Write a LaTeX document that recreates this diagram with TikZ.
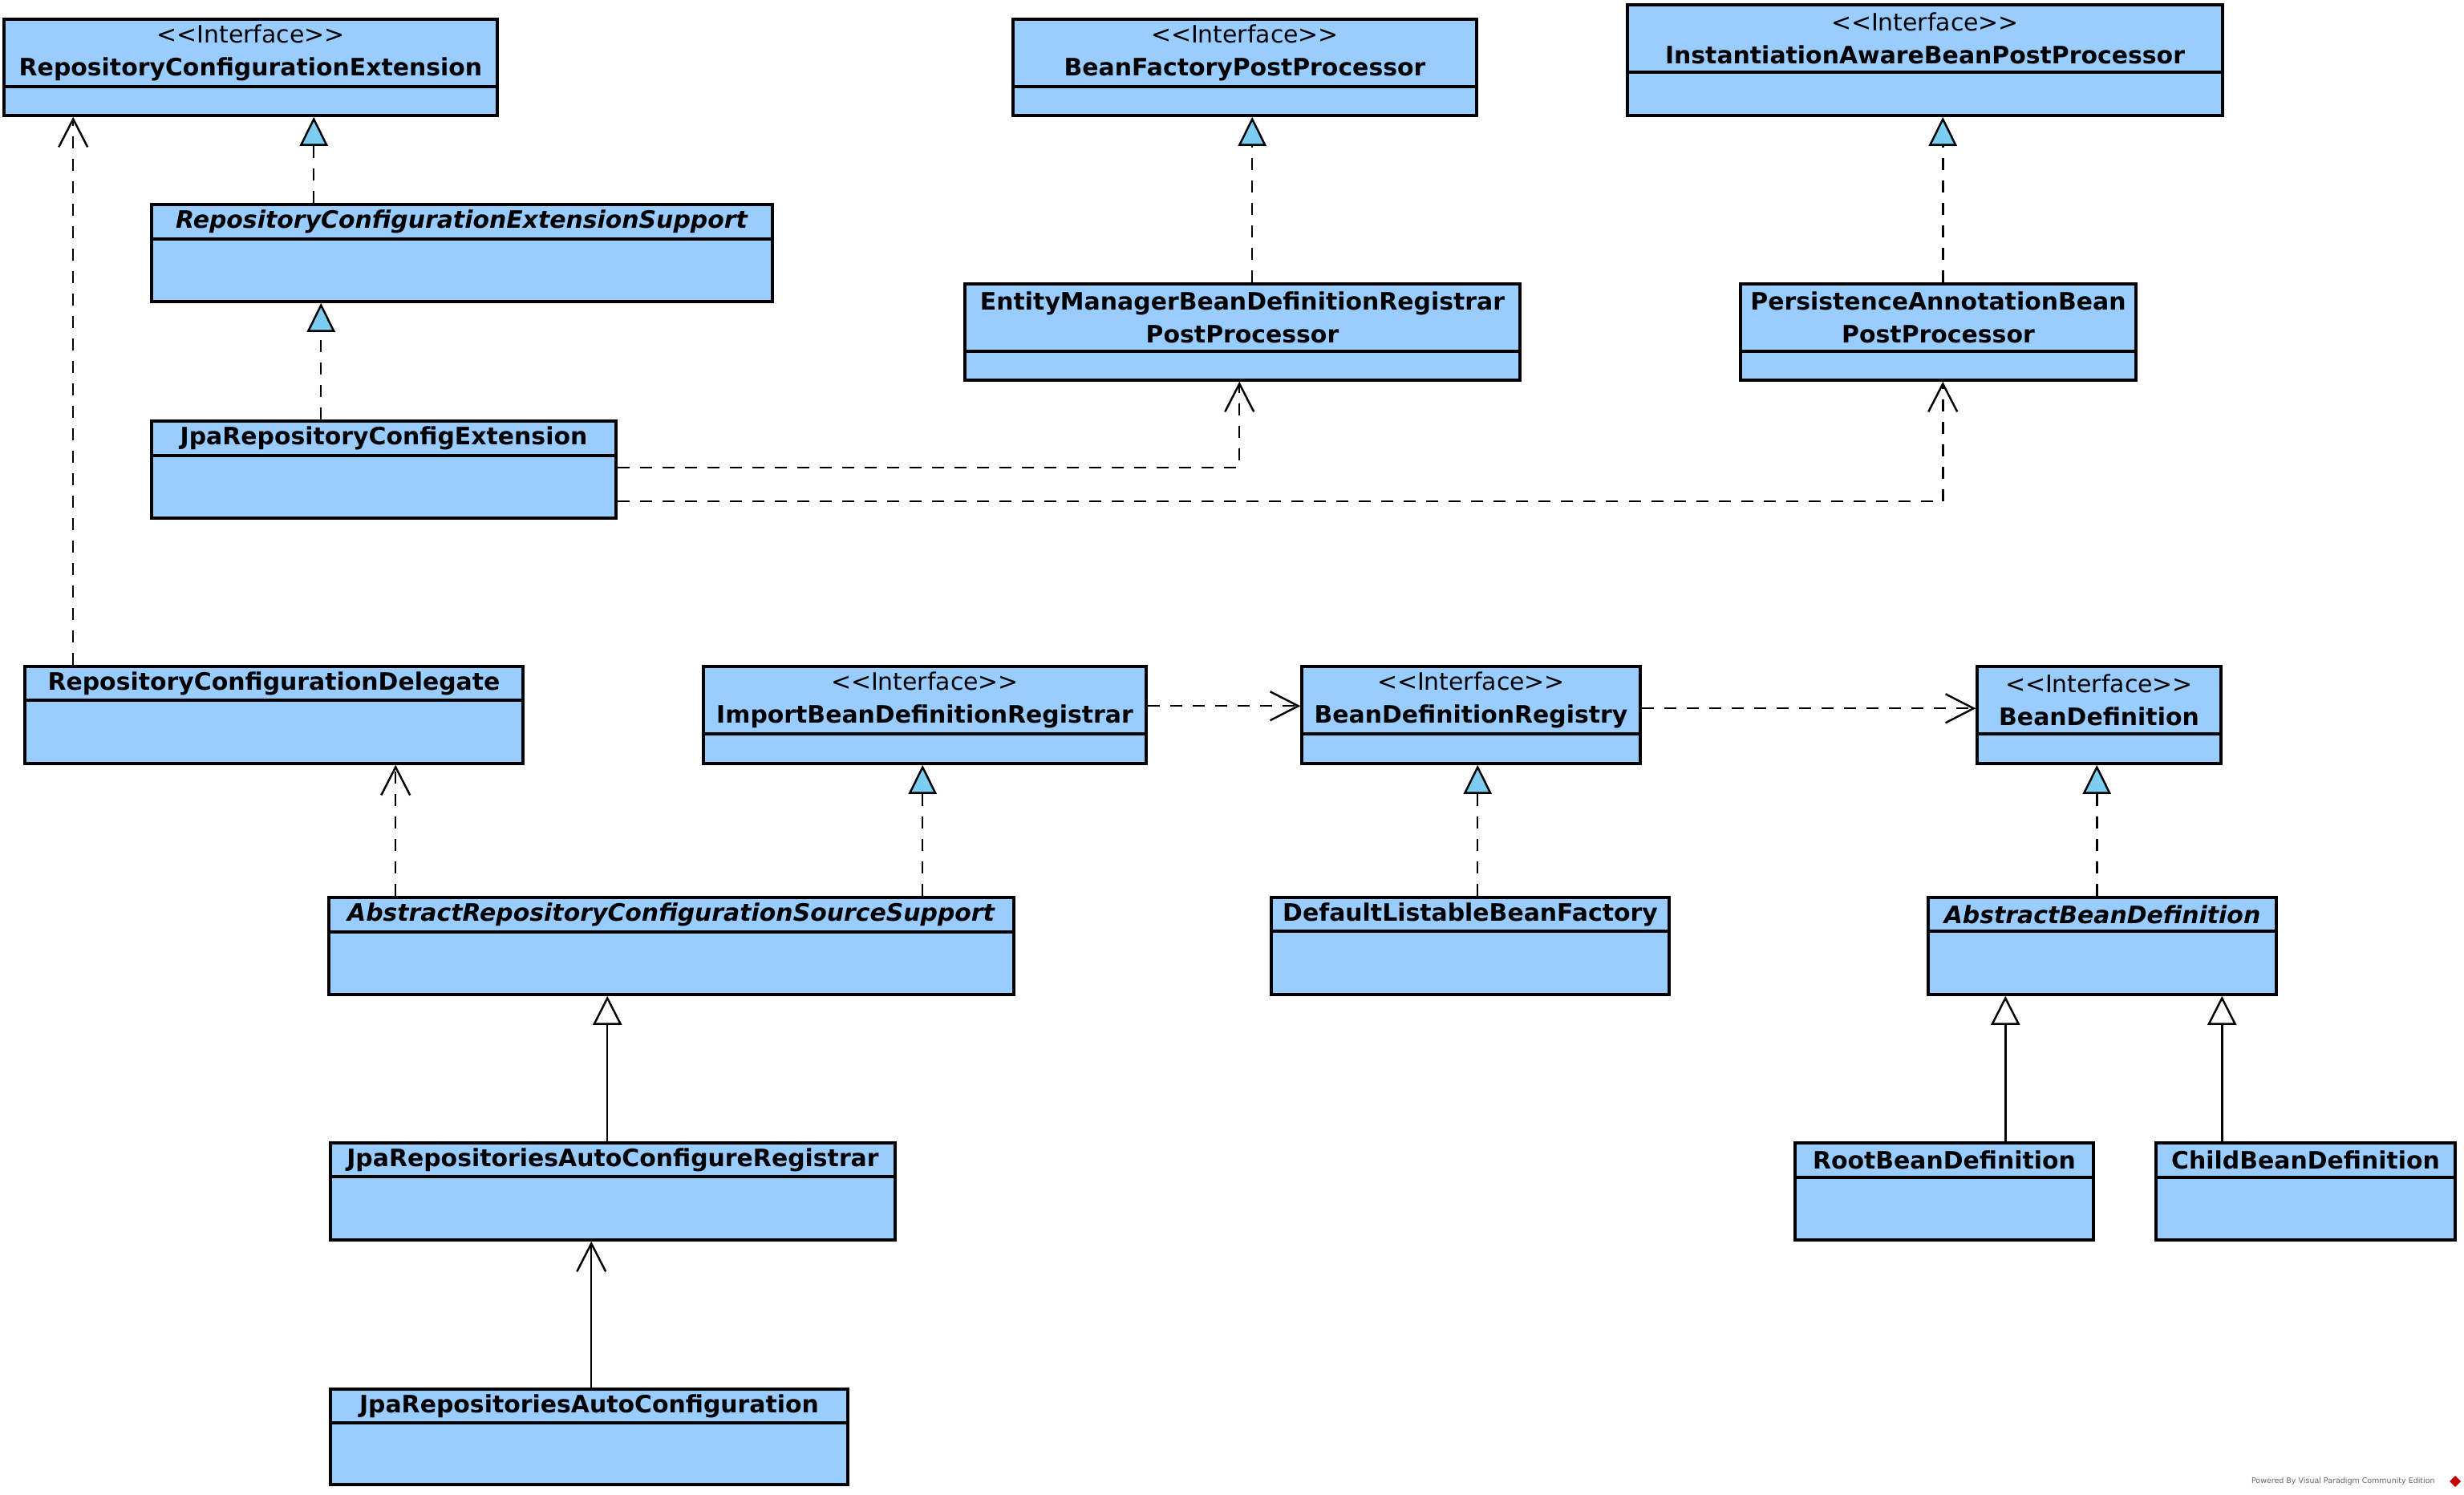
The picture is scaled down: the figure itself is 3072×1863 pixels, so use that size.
\documentclass[tikz,border=0pt]{standalone}
\usepackage{fontspec}
\setsansfont{DejaVu Sans}
\usetikzlibrary{arrows.meta, calc, fit}
\definecolor{clsblue}{RGB}{153,204,255}
\definecolor{tipblue}{RGB}{125,205,242}
\newcommand{\itf}{{\mdseries <{}<Interface>{}>}\\}

\begin{document}
\begin{tikzpicture}[x=0.01cm, y=-0.01cm]%{{{
        \useasboundingbox (0, 0) rectangle (3072, 1863);
        \fill [white] (0, 0) rectangle (3072, 1863);

        \tikzstyle{c} = [draw, fill=clsblue, line width=1pt, inner sep=0pt];
        \tikzstyle{h} = [font=\sffamily\bfseries\fontsize{8.5}{11.7}\selectfont, align=center, inner sep=0pt];

        \foreach \n/\xa/\ya/\xb/\yb/\yd/\txt in {
            A/5/24/620/144/108/{\itf RepositoryConfigurationExtension},
            B/189/255/963/376/298/{\textit{RepositoryConfigurationExtensionSupport}},
            C/189/525/768/646/568/{JpaRepositoryConfigExtension},
            D/1263/24/1841/144/108/{\itf BeanFactoryPostProcessor},
            E/1203/354/1895/474/438/{EntityManagerBeanDefinitionRegistrar\\PostProcessor},
            F/2029/6/2771/144/90/{\itf InstantiationAwareBeanPostProcessor},
            G/2170/354/2663/474/438/{PersistenceAnnotationBean\\PostProcessor},
            H/31/831/652/952/873/{RepositoryConfigurationDelegate},
            I/877/831/1429/952/915/{\itf ImportBeanDefinitionRegistrar},
            J/1623/831/2045/952/915/{\itf BeanDefinitionRegistry},
            K/2465/831/2769/952/915/{\itf BeanDefinition},
            L/410/1119/1264/1240/1162/{\textit{AbstractRepositoryConfigurationSourceSupport}},
            M/1585/1119/2081/1240/1161/{DefaultListableBeanFactory},
            N/2404/1119/2838/1240/1161/{\textit{AbstractBeanDefinition}},
            O/412/1425/1116/1546/1467/{JpaRepositoriesAutoConfigureRegistrar},
            P/2238/1425/2610/1546/1468/{RootBeanDefinition},
            Q/2688/1425/3061/1546/1468/{ChildBeanDefinition},
            R/412/1732/1057/1851/1774/{JpaRepositoriesAutoConfiguration}}{
            \node [c, fit={(\xa, \ya) (\xb, \yb)}] (\n) { };
            \draw [line width=1pt] (\xa, \yd) -- (\xb, \yd);
            \node [h] (\n t) at ($(\xa, \ya)!0.5!(\xb, \yd)$) {\txt};
        }

        \tikzstyle{ln} = [line width=0.7pt];
        \tikzstyle{dsh} = [ln, dash pattern=on 0.15cm off 0.13cm];
        \tikzstyle{dep} = [dsh, -{Straight Barb[length=0.35cm, width=0.36cm]}];
        \tikzstyle{real} = [dsh, -{Triangle[length=0.36cm, width=0.35cm, fill=tipblue]}];
        \tikzstyle{gen} = [ln, -{Triangle[length=0.36cm, width=0.36cm, fill=white]}];
        \tikzstyle{assoc} = [ln, -{Straight Barb[length=0.35cm, width=0.36cm]}];

        \foreach \s/\dx/\e in {H/62/A, L/85/H}{
            \coordinate (\s\e) at ($(\s.north west) + (\dx, 0)$);
            \draw [dep] (\s\e) -- (\s\e |- \e.south);
        }

        \foreach \s/\dx/\e in {B/204/A, C/213/B, E/360/D, G/254/F, L/742/I, M/259/J, N/212/K}{
            \coordinate (\s\e) at ($(\s.north west) + (\dx, 0)$);
            \draw [real] (\s\e) -- (\s\e |- \e.south);
        }

        \foreach \s/\dx/\e in {O/347/L, P/264/N, Q/84/N}{
            \coordinate (\s\e) at ($(\s.north west) + (\dx, 0)$);
            \draw [gen] (\s\e) -- (\s\e |- \e.south);
        }

        \coordinate (RO) at ($(R.north west) + (327, 0)$);
        \draw [assoc] (RO) -- (RO |- O.south);

        \coordinate (CE) at ($(C.north east) + (0, 60)$);
        \draw [dep] (CE) -| ($(E.south west) + (344, 0)$);
        \coordinate (CG) at ($(C.north east) + (0, 102)$);
        \draw [dep] (CG) -| ($(G.south west) + (254, 0)$);

        \coordinate (IJ) at ($(I.north east) + (0, 51)$);
        \draw [dep] (IJ) -- (IJ -| J.west);
        \coordinate (JK) at ($(J.north east) + (0, 54)$);
        \draw [dep] (JK) -- (JK -| K.west);

        \node [anchor=east, text=black!60, font=\sffamily\fontsize{2.7}{3.5}\selectfont] (vp) at (3048, 1847) {Powered By Visual Paradigm Community Edition};
        \fill [red!75!black] ($(vp.east) + (6, 0)$) -- ++(7, -7) -- ++(7, 7) -- ++(-7, 7) -- cycle;
    \end{tikzpicture}%}}}
\end{document}
